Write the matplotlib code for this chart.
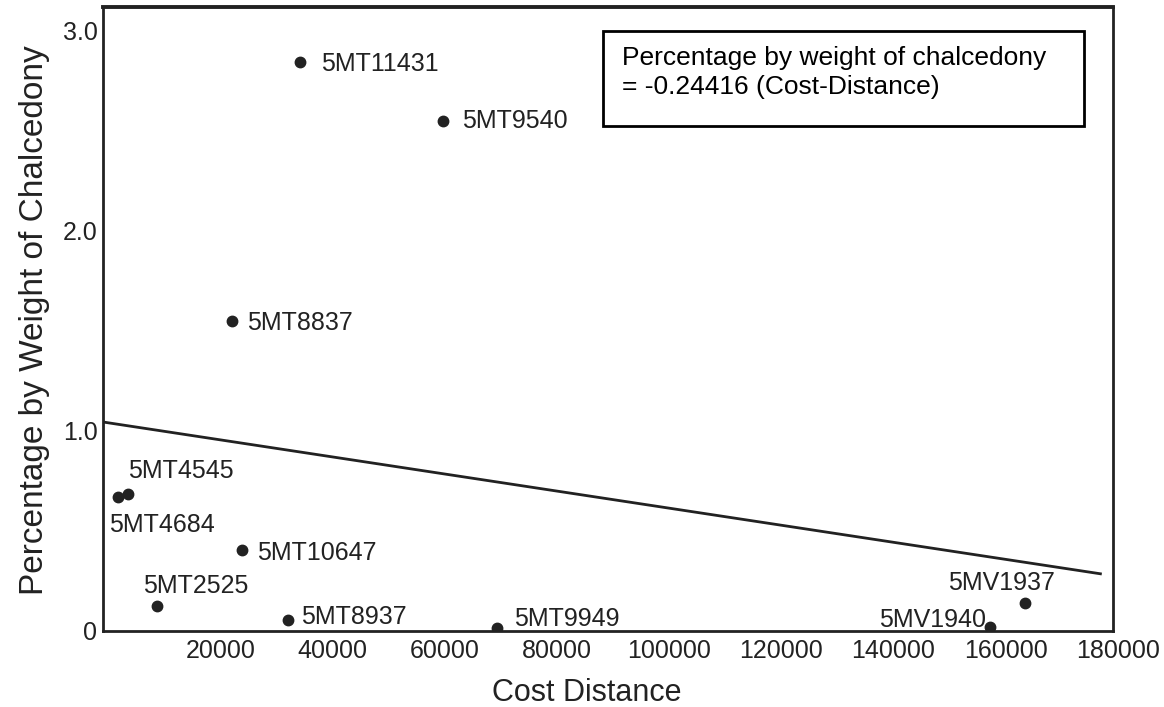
import matplotlib
matplotlib.use('Agg')
import matplotlib.pyplot as plt
import matplotlib.transforms as mtransforms
from matplotlib.patches import Rectangle

plt.rcParams['font.family'] = ['Liberation Sans', 'DejaVu Sans']

# site samples: cost distance vs. chalcedony weight percentage
sites = ['5MT11431', '5MT9540', '5MT8837', '5MT4545', '5MT4684', '5MT10647',
         '5MT2525', '5MT8937', '5MT9949', '5MV1940', '5MV1937']
cost_dist = [35100, 60600, 23000, 4500, 2700, 24800,
             9600, 33000, 70200, 158100, 164300]
pct_chalc = [2.845, 2.55, 1.55, 0.685, 0.67, 0.405,
             0.125, 0.055, 0.015, 0.02, 0.14]

# fitted trend line end points
fit_x = [0, 178000]
fit_y = [1.045, 0.285]

xticks = [20000, 40000, 60000, 80000, 100000, 120000, 140000, 160000, 180000]
yticks = [0, 1.0, 2.0, 3.0]
ytick_labels = ['0', '1.0', '2.0', '3.0']

eq_text = 'Percentage by weight of chalcedony\n= -0.24416 (Cost-Distance)'

# label placement per site: (dx, dy) in points, horizontal alignment
label_pos = {
    '5MT11431': ((15, 0), 'left'),
    '5MT9540': ((14, 2), 'left'),
    '5MT8837': ((11, 0), 'left'),
    '5MT4545': ((0, 18), 'left'),
    '5MT4684': ((-6.5, -18), 'left'),
    '5MT10647': ((11, 0), 'left'),
    '5MT2525': ((-10, 16.5), 'left'),
    '5MT8937': ((9, 4), 'left'),
    '5MT9949': ((12, 8), 'left'),
    '5MV1940': ((-3, 7), 'right'),
    '5MV1937': ((-17, 16), 'center'),
}

ink = '#222222'

fig = plt.figure(figsize=(11.64, 7.07), dpi=100)
ax = fig.add_axes([103 / 1164, 76 / 707, 1010 / 1164, 624 / 707])

ax.plot(fit_x, fit_y, color=ink, lw=2, solid_capstyle='butt')
ax.plot(cost_dist, pct_chalc, 'o', color=ink, ms=7.5, mec=ink)

for name, x, y in zip(sites, cost_dist, pct_chalc):
    (dx, dy), ha = label_pos[name]
    ax.annotate(name, (x, y), xytext=(dx, dy), textcoords='offset points',
                ha=ha, va='center_baseline', fontsize=18, color=ink)

ax.set_xlim(0, 180000)
ax.set_ylim(0, 3.12)
ax.set_xticks(xticks)
ax.set_xticklabels([str(t) for t in xticks])
ax.set_yticks(yticks)
ax.set_yticklabels(ytick_labels)
ax.tick_params(length=0, labelsize=18, labelcolor=ink)
ax.tick_params(axis='x', pad=6)
ax.tick_params(axis='y', pad=4)

# nudge x tick labels a little to the right
shift = mtransforms.ScaledTranslation(5 / 100, 0, fig.dpi_scale_trans)
for lab in ax.get_xticklabels():
    lab.set_transform(lab.get_transform() + shift)

for side in ['left', 'bottom', 'right']:
    ax.spines[side].set_linewidth(2)
    ax.spines[side].set_color(ink)
ax.spines['top'].set_linewidth(2.8)
ax.spines['top'].set_color(ink)

ax.set_xlabel('Cost Distance', fontsize=22, color=ink)
ax.set_ylabel('Percentage by Weight of Chalcedony', fontsize=24, color=ink)
ax.xaxis.set_label_coords(0.479, -0.075)
ax.yaxis.set_label_coords(-0.0525, 0.498)

# equation box
ax.add_patch(Rectangle((0.495, 0.809), 0.476, 0.1525, transform=ax.transAxes,
                       fill=False, lw=2, ec='black'))
ax.text(0.514, 0.895, eq_text, transform=ax.transAxes, ha='left',
        va='center', fontsize=19, color='black', linespacing=1.3)

fig.savefig('out.png', dpi=100)
